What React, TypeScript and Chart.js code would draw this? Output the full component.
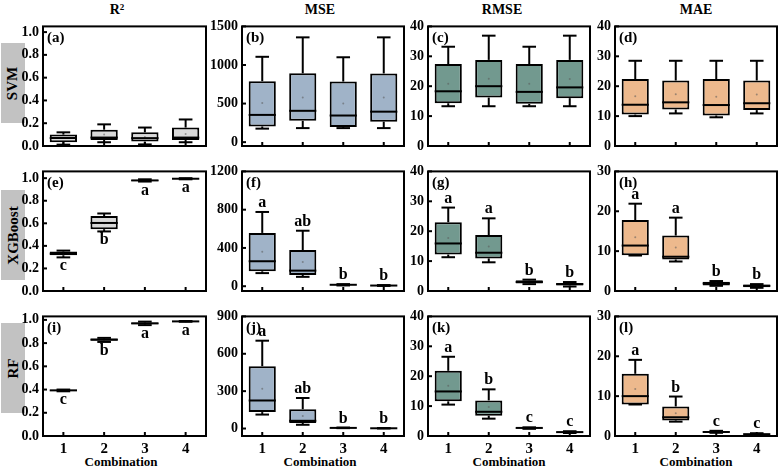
import React, { useEffect, useRef } from "react";
import { Chart, registerables } from "chart.js";

Chart.register(...registerables);

const FONT = "'Liberation Serif', 'Times New Roman', serif";

// ---------- data ----------
const combos = ["1", "2", "3", "4"];

// each entry: [min, q1, median, q3, max]
const svmR2 = [[0.012, 0.033, 0.07, 0.10, 0.12], [0.033, 0.053, 0.074, 0.143, 0.19], [0.014, 0.039, 0.069, 0.12, 0.162], [0.033, 0.053, 0.074, 0.162, 0.233]];
const svmR2Mean = [0.07, 0.10, 0.08, 0.105];
const svmMSE = [[175, 203, 353, 790, 1106], [182, 276, 406, 892, 1358], [182, 195, 345, 785, 1100], [182, 265, 395, 890, 1358]];
const svmMSEMean = [506, 580, 500, 580];
const svmRMSE = [[13.3, 14.3, 18.3, 27.4, 33.2], [13.3, 16.2, 20.0, 28.8, 36.9], [13.3, 14.1, 18.1, 27.4, 33.2], [13.3, 16.0, 19.6, 28.8, 36.9]];
const svmRMSEMean = [20.8, 22.5, 20.8, 22.4];
const svmMAE = [[10.0, 10.5, 13.8, 22.4, 28.5], [10.9, 12.2, 14.6, 21.9, 28.5], [9.6, 10.2, 13.7, 22.4, 28.5], [10.9, 12.0, 14.3, 21.9, 28.5]];
const svmMAEMean = [16.6, 17.3, 16.5, 17.2];

const xgbR2 = [[0.298, 0.317, 0.331, 0.35, 0.358], [0.528, 0.548, 0.603, 0.664, 0.687], [0.97, 0.975, 0.98, 0.985, 0.99], [0.99, 0.993, 0.995, 0.997, 1.0]];
const xgbR2Mean = [0.33, 0.6, 0.98, 0.995];
const xgbR2Letters = ["c", "b", "a", "a"];
const xgbMSE = [[137, 156, 261, 557, 776], [98, 117, 163, 378, 580], [8, 12, 15, 18, 22], [3, 5, 7, 9, 12]];
const xgbMSEMean = [359, 254, 15, 7];
const xgbMSELetters = ["a", "ab", "b", "b"];
const xgbRMSE = [[11.3, 12.2, 15.9, 23.0, 27.9], [9.6, 10.9, 12.8, 18.7, 24.3], [2.3, 2.5, 3.0, 3.6, 3.8], [1.5, 1.8, 2.3, 2.7, 3.0]];
const xgbRMSEMean = [17.7, 14.9, 3.0, 2.3];
const xgbRMSELetters = ["a", "a", "b", "b"];
const xgbMAE = [[8.9, 8.95, 11.4, 17.8, 21.9], [7.4, 7.9, 8.6, 13.9, 18.4], [1.3, 1.4, 1.9, 2.35, 2.5], [0.8, 0.95, 1.3, 1.6, 1.73]];
const xgbMAEMean = [13.5, 10.9, 1.9, 1.3];
const xgbMAELetters = ["a", "a", "b", "b"];

const rfR2 = [[0.385, 0.39, 0.393, 0.398, 0.40], [0.81, 0.82, 0.83, 0.84, 0.845], [0.955, 0.962, 0.97, 0.978, 0.985], [0.984, 0.986, 0.987, 0.988, 0.99]];
const rfR2Mean = [0.393, 0.83, 0.97, 0.987];
const rfR2Letters = ["c", "b", "a", "a"];
const rfMSE = [[112, 132, 225, 500, 705], [30, 45, 62, 155, 245], [3, 4, 5, 6, 8], [1, 1.5, 2, 2.5, 3]];
const rfMSEMean = [320, 100, 5, 2];
const rfMSELetters = ["a", "ab", "b", "b"];
const rfRMSE = [[10.5, 11.6, 14.9, 21.8, 26.5], [5.8, 6.8, 8.1, 11.9, 15.6], [2.4, 2.5, 2.7, 2.8, 2.9], [1.0, 1.1, 1.3, 1.5, 1.6]];
const rfRMSEMean = [16.8, 9.7, 2.7, 1.3];
const rfRMSELetters = ["a", "b", "c", "c"];
const rfMAE = [[7.9, 7.9, 10.0, 15.6, 19.1], [3.6, 3.9, 4.7, 7.4, 9.9], [0.8, 0.85, 1.0, 1.2, 1.3], [0.3, 0.35, 0.45, 0.6, 0.7]];
const rfMAEMean = [11.8, 5.7, 1.0, 0.45];
const rfMAELetters = ["a", "b", "c", "c"];

// axis ticks
const r2Ticks = [0, 0.2, 0.4, 0.6, 0.8, 1.0];
const mseTicksSVM = [0, 500, 1000, 1500];
const mseTicksXGB = [0, 400, 800, 1200];
const mseTicksRF = [0, 300, 600, 900];
const errTicks40 = [0, 10, 20, 30, 40];
const errTicks30 = [0, 10, 20, 30];

const columnTitles = ["R", "MSE", "RMSE", "MAE"];
const rowNames = ["SVM", "XGBoost", "RF"];
const panelTags = ["(a)", "(b)", "(c)", "(d)", "(e)", "(f)", "(g)", "(h)", "(i)", "(j)", "(k)", "(l)"];
const xTitle = "Combination";

// ---------- layout / style ----------
const colColors = ["#d9d9d9", "#a0b3c8", "#72998f", "#edb98d"];
const colLeft = [43, 242, 428, 615];
const colWidth = [163, 162, 162, 162];
const rowTop = [18, 163, 308];
const plotH = 128;
const PL = 44, PT = 4, PR = 4, PB = 28;

type PanelDef = {
  row: number; col: number; stats: number[][]; means: number[];
  letters: string[] | null; below: boolean; ticks: number[];
  min: number; max: number; decimals: number;
};

const panels: PanelDef[] = [
  { row: 0, col: 0, stats: svmR2, means: svmR2Mean, letters: null, below: true, ticks: r2Ticks, min: 0, max: 1.05, decimals: 1 },
  { row: 0, col: 1, stats: svmMSE, means: svmMSEMean, letters: null, below: false, ticks: mseTicksSVM, min: -50, max: 1500, decimals: 0 },
  { row: 0, col: 2, stats: svmRMSE, means: svmRMSEMean, letters: null, below: false, ticks: errTicks40, min: 0, max: 40, decimals: 0 },
  { row: 0, col: 3, stats: svmMAE, means: svmMAEMean, letters: null, below: false, ticks: errTicks40, min: 0, max: 40, decimals: 0 },
  { row: 1, col: 0, stats: xgbR2, means: xgbR2Mean, letters: xgbR2Letters, below: true, ticks: r2Ticks, min: 0, max: 1.06, decimals: 1 },
  { row: 1, col: 1, stats: xgbMSE, means: xgbMSEMean, letters: xgbMSELetters, below: false, ticks: mseTicksXGB, min: -50, max: 1200, decimals: 0 },
  { row: 1, col: 2, stats: xgbRMSE, means: xgbRMSEMean, letters: xgbRMSELetters, below: false, ticks: errTicks40, min: 0, max: 40, decimals: 0 },
  { row: 1, col: 3, stats: xgbMAE, means: xgbMAEMean, letters: xgbMAELetters, below: false, ticks: errTicks30, min: 0, max: 30, decimals: 0 },
  { row: 2, col: 0, stats: rfR2, means: rfR2Mean, letters: rfR2Letters, below: true, ticks: r2Ticks, min: 0, max: 1.03, decimals: 1 },
  { row: 2, col: 1, stats: rfMSE, means: rfMSEMean, letters: rfMSELetters, below: false, ticks: mseTicksRF, min: -60, max: 900, decimals: 0 },
  { row: 2, col: 2, stats: rfRMSE, means: rfRMSEMean, letters: rfRMSELetters, below: false, ticks: errTicks40, min: 0, max: 40, decimals: 0 },
  { row: 2, col: 3, stats: rfMAE, means: rfMAEMean, letters: rfMAELetters, below: false, ticks: errTicks30, min: 0, max: 30, decimals: 0 },
];

function BoxPanel({ p, idx }: { p: PanelDef; idx: number }) {
  const ref = useRef<HTMLCanvasElement>(null);
  const W = colWidth[p.col];
  const cw = W + PL + PR;
  const ch = plotH + PT + PB;
  const isBottom = p.row === 2;

  useEffect(() => {
    if (!ref.current) return;
    const boxPlugin = {
      id: "boxplot" + idx,
      afterDatasetsDraw(chart: any) {
        const ctx = chart.ctx;
        const y = chart.scales.y;
        const x = chart.scales.x;
        const area = chart.chartArea;
        const meta = chart.getDatasetMeta(0);
        ctx.save();
        ctx.strokeStyle = "#000";
        ctx.lineWidth = 2;
        ctx.lineCap = "butt";
        const line = (x1: number, y1: number, x2: number, y2: number) => {
          ctx.beginPath(); ctx.moveTo(x1, y1); ctx.lineTo(x2, y2); ctx.stroke();
        };
        p.stats.forEach((s, i) => {
          const el = meta.data[i];
          const cx = el.x;
          const w = el.width;
          const [mn, q1, md, q3, mx] = s;
          line(cx, y.getPixelForValue(q3), cx, y.getPixelForValue(mx));
          line(cx, y.getPixelForValue(q1), cx, y.getPixelForValue(mn));
          line(cx - w / 4, y.getPixelForValue(mx), cx + w / 4, y.getPixelForValue(mx));
          line(cx - w / 4, y.getPixelForValue(mn), cx + w / 4, y.getPixelForValue(mn));
          line(cx - w / 2, y.getPixelForValue(md), cx + w / 2, y.getPixelForValue(md));
        });
        // tick marks (inward)
        p.ticks.forEach((v) => {
          const py = y.getPixelForValue(v);
          line(area.left, py, area.left + 4, py);
        });
        combos.forEach((_, i) => {
          const px = x.getPixelForValue(i);
          line(px, area.bottom, px, area.bottom - 4);
        });
        // frame
        ctx.strokeRect(area.left, area.top, area.right - area.left, area.bottom - area.top);
        // panel tag
        ctx.fillStyle = "#000";
        ctx.font = `bold 15px ${FONT}`;
        ctx.textAlign = "left";
        ctx.textBaseline = "middle";
        ctx.fillText(panelTags[idx], area.left + 4, area.top + 12);
        // letters
        if (p.letters) {
          ctx.font = `bold 16px ${FONT}`;
          ctx.textAlign = "center";
          ctx.textBaseline = "alphabetic";
          p.letters.forEach((t, i) => {
            const el = meta.data[i];
            const [mn, , , , mx] = p.stats[i];
            const ty = p.below ? y.getPixelForValue(mn) + 13 : y.getPixelForValue(mx) - 5;
            ctx.fillText(t, el.x, ty);
          });
        }
        ctx.restore();
      },
    };

    const chart = new Chart(ref.current, {
      type: "bar",
      data: {
        labels: combos,
        datasets: [
          {
            type: "bar",
            data: p.stats.map((s) => [s[1], s[3]]),
            backgroundColor: colColors[p.col],
            borderColor: "#000",
            borderWidth: 2,
            borderSkipped: false,
            barPercentage: 0.67,
            categoryPercentage: 1,
            order: 2,
          } as any,
          {
            type: "line",
            data: p.means,
            showLine: false,
            pointRadius: 1,
            pointBorderWidth: 0,
            pointBackgroundColor: "rgba(90,90,90,0.55)",
            order: 1,
          } as any,
        ],
      },
      options: {
        responsive: false,
        animation: false,
        events: [],
        layout: { padding: { top: PT, right: PR, left: 0, bottom: 0 } },
        plugins: { legend: { display: false }, tooltip: { enabled: false }, title: { display: false } },
        scales: {
          x: {
            type: "category",
            offset: true,
            grid: { display: false, drawTicks: false },
            border: { display: false },
            ticks: { display: isBottom, padding: 4, color: "#000", font: { family: FONT, weight: "bold", size: 15 } },
            afterFit: (s: any) => { s.height = PB; },
          },
          y: {
            type: "linear",
            min: p.min,
            max: p.max,
            grid: { display: false, drawTicks: false },
            border: { display: false },
            ticks: {
              padding: 4,
              color: "#000",
              font: { family: FONT, weight: "bold", size: 14 },
              callback: (v: any) => Number(v).toFixed(p.decimals),
            },
            afterBuildTicks: (s: any) => { s.ticks = p.ticks.map((v) => ({ value: v })); },
            afterFit: (s: any) => { s.width = PL; },
          },
        },
      } as any,
      plugins: [boxPlugin],
    });
    return () => chart.destroy();
  }, []);

  return (
    <canvas
      ref={ref}
      width={cw}
      height={ch}
      style={{ position: "absolute", left: colLeft[p.col] - PL, top: rowTop[p.row] - PT, width: cw, height: ch }}
    />
  );
}

const titleX = [117, 320, 502, 696];
const xTitleX = [121, 320, 509, 696];
const rowBoxTop = [43, 190, 323];
const rowBoxH = [80, 90, 90];

export default function App() {
  return (
    <div style={{ position: "absolute", left: 0, top: 0, width: 779, height: 467, background: "#fff", overflow: "hidden", fontFamily: FONT }}>
      {rowNames.map((n, i) => (
        <div key={n} style={{
          position: "absolute", left: 1, top: rowBoxTop[i], width: 24, height: rowBoxH[i], background: "#c2c2c2",
          display: "flex", alignItems: "center", justifyContent: "center",
        }}>
          <div style={{ transform: "rotate(-90deg)", fontWeight: "bold", fontSize: 15, whiteSpace: "nowrap", color: "#000", lineHeight: "15px" }}>{n}</div>
        </div>
      ))}
      {columnTitles.map((t, i) => (
        <div key={t} style={{
          position: "absolute", left: titleX[i], top: 10, transform: "translate(-50%, -50%)",
          fontWeight: "bold", fontSize: 14, lineHeight: "14px", whiteSpace: "nowrap", color: "#000",
        }}>
          {t}{i === 0 ? <sup style={{ fontSize: 9, verticalAlign: "top", position: "relative", top: -3 }}>2</sup> : null}
        </div>
      ))}
      {xTitleX.map((x, i) => (
        <div key={"xt" + i} style={{
          position: "absolute", left: x, top: 461, transform: "translate(-50%, -50%)",
          fontWeight: "bold", fontSize: 13, lineHeight: "13px", whiteSpace: "nowrap", color: "#000",
        }}>{xTitle}</div>
      ))}
      {panels.map((p, i) => <BoxPanel key={i} p={p} idx={i} />)}
    </div>
  );
}
